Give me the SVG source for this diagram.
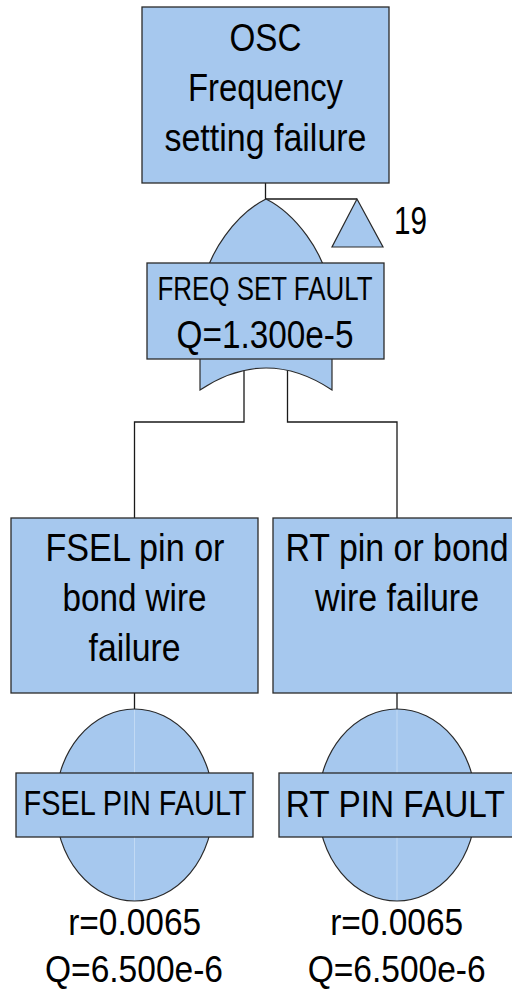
<svg xmlns="http://www.w3.org/2000/svg" width="512" height="991" viewBox="0 0 512 991">
<style>
.box{fill:#a6c8ee;stroke:#2a2a2a;stroke-width:1.3}
.shape{fill:#a6c8ee;stroke:#2a2a2a;stroke-width:1.2}
.conn{fill:none;stroke:#1a1a1a;stroke-width:1.3}
.mid{stroke:#c2daf4;stroke-width:1}
text{font-family:"Liberation Sans",Arial,sans-serif;fill:#000;text-anchor:middle}
</style>
<rect width="512" height="991" fill="#fff"/>
<g id="connectors">
<path class="conn" d="M265.5,183 V199 H357"/>
<path class="conn" d="M244,365 V422 H134.5 V518"/>
<path class="conn" d="M287.5,365 V422 H397 V518"/>
<path class="conn" d="M134.5,693 V710"/>
<path class="conn" d="M397,693 V710"/>
</g>
<g id="top-event">
<rect class="box" x="142" y="7" width="247" height="176"/>
<text x="265.5" y="50.5" font-size="38" textLength="72" lengthAdjust="spacingAndGlyphs">OSC</text>
<text x="265.5" y="100.5" font-size="38" textLength="155" lengthAdjust="spacingAndGlyphs">Frequency</text>
<text x="265.5" y="150.5" font-size="38" textLength="202" lengthAdjust="spacingAndGlyphs">setting failure</text>
</g>
<g id="transfer-19">
<polygon class="shape" points="357,199 332,247 383,247"/>
<text x="410.5" y="234" font-size="38" textLength="33" lengthAdjust="spacingAndGlyphs">19</text>
</g>
<g id="or-gate">
<path class="shape" d="M266,199 C240,212 205,250 200,300 L200,390 Q266,346 332,390 L332,300 C327,250 292,212 266,199 Z"/>
<rect class="box" x="147" y="263" width="237" height="96"/>
<text x="265" y="300" font-size="34" textLength="215" lengthAdjust="spacingAndGlyphs">FREQ SET FAULT</text>
<text x="265" y="348" font-size="39" textLength="177" lengthAdjust="spacingAndGlyphs">Q=1.300e-5</text>
</g>
<g id="fsel-event">
<rect class="box" x="11" y="518" width="247" height="175"/>
<text x="135" y="561" font-size="38" textLength="179" lengthAdjust="spacingAndGlyphs">FSEL pin or</text>
<text x="134.5" y="611" font-size="38" textLength="144" lengthAdjust="spacingAndGlyphs">bond wire</text>
<text x="134.5" y="661" font-size="38" textLength="92" lengthAdjust="spacingAndGlyphs">failure</text>
</g>
<g id="rt-event">
<rect class="box" x="273" y="518" width="247" height="175"/>
<text x="397" y="561" font-size="38" textLength="223" lengthAdjust="spacingAndGlyphs">RT pin or bond</text>
<text x="397" y="611" font-size="38" textLength="164" lengthAdjust="spacingAndGlyphs">wire failure</text>
</g>
<g id="fsel-basic">
<ellipse class="shape" cx="134.5" cy="805" rx="79" ry="96"/>
<line class="mid" x1="134.5" y1="710" x2="134.5" y2="900"/>
<rect class="box" x="16" y="773" width="237" height="64"/>
<text x="135" y="815" font-size="35" textLength="223" lengthAdjust="spacingAndGlyphs">FSEL PIN FAULT</text>
<text x="134.7" y="935" font-size="37" textLength="133" lengthAdjust="spacingAndGlyphs">r=0.0065</text>
<text x="134" y="982" font-size="37" textLength="178" lengthAdjust="spacingAndGlyphs">Q=6.500e-6</text>
</g>
<g id="rt-basic">
<ellipse class="shape" cx="397" cy="805" rx="79" ry="96"/>
<line class="mid" x1="397" y1="710" x2="397" y2="900"/>
<rect class="box" x="279" y="773" width="237" height="64"/>
<text x="395.3" y="816.5" font-size="37" textLength="219" lengthAdjust="spacingAndGlyphs">RT PIN FAULT</text>
<text x="396.7" y="935" font-size="37" textLength="133" lengthAdjust="spacingAndGlyphs">r=0.0065</text>
<text x="396.7" y="982" font-size="37" textLength="178" lengthAdjust="spacingAndGlyphs">Q=6.500e-6</text>
</g>
</svg>
